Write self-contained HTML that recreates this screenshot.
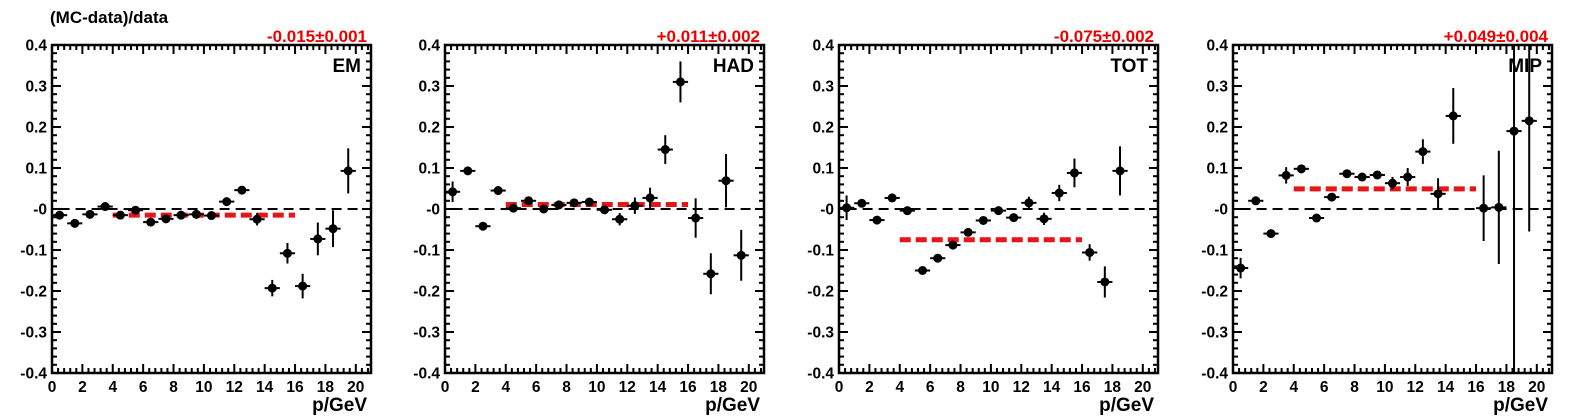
<!DOCTYPE html>
<html><head><meta charset="utf-8"><style>
html,body{margin:0;padding:0;background:#fff}
svg{display:block}
text{font-family:"Liberation Sans",Arial,sans-serif;font-weight:bold}
</style></head><body>
<svg id="chart" width="1575" height="419" viewBox="0 0 1575 419" xmlns="http://www.w3.org/2000/svg">
<text x="50" y="23" font-size="17">(MC-data)/data</text>
</svg>
<script>
const panelNames = ["EM","HAD","TOT","MIP"];
const fitLabels = ["-0.015\u00b10.001","+0.011\u00b10.002","-0.075\u00b10.002","+0.049\u00b10.004"];
const fitValues = [-0.015, 0.011, -0.075, 0.049];
const binCenters = [0.5,1.5,2.5,3.5,4.5,5.5,6.5,7.5,8.5,9.5,10.5,11.5,12.5,13.5,14.5,15.5,16.5,17.5,18.5,19.5];
const emValues = [-0.015,-0.035,-0.013,0.006,-0.015,-0.003,-0.032,-0.024,-0.015,-0.013,-0.016,0.018,0.046,-0.025,-0.193,-0.108,-0.188,-0.073,-0.048,0.093];
const emErrors = [0.006,0.005,0.005,0.005,0.005,0.005,0.005,0.005,0.005,0.005,0.005,0.006,0.008,0.015,0.02,0.025,0.03,0.04,0.045,0.055];
const hadValues = [0.042,0.093,-0.042,0.045,0.002,0.02,0,0.01,0.015,0.017,-0.002,-0.025,0.008,0.027,0.145,0.31,-0.022,-0.158,0.069,-0.113];
const hadErrors = [0.025,0.005,0.005,0.005,0.005,0.006,0.005,0.006,0.006,0.007,0.01,0.015,0.02,0.025,0.035,0.05,0.048,0.05,0.065,0.062];
const totValues = [0.003,0.014,-0.027,0.027,-0.004,-0.15,-0.12,-0.088,-0.057,-0.028,-0.004,-0.021,0.015,-0.024,0.039,0.088,-0.106,-0.178,0.093,null];
const totErrors = [0.03,0.006,0.005,0.006,0.005,0.005,0.005,0.005,0.005,0.005,0.005,0.006,0.015,0.015,0.02,0.035,0.02,0.038,0.06,0];
const mipValues = [-0.144,0.02,-0.06,0.082,0.098,-0.022,0.029,0.086,0.078,0.083,0.063,0.078,0.14,0.037,0.227,null,0.002,0.004,0.19,0.215];
const mipErrors = [0.025,0.006,0.006,0.02,0.006,0.006,0.006,0.01,0.008,0.01,0.015,0.022,0.03,0.038,0.068,0,0.08,0.138,0.6,0.27];
const xTicks = [0,2,4,6,8,10,12,14,16,18,20];
const yTicks = [0.4,0.3,0.2,0.1,0,-0.1,-0.2,-0.3,-0.4];
const yTickLabels = ["0.4","0.3","0.2","0.1","-0","-0.1","-0.2","-0.3","-0.4"];
const allValues = [emValues,hadValues,totValues,mipValues];
const allErrors = [emErrors,hadErrors,totErrors,mipErrors];

const NS="http://www.w3.org/2000/svg";
const svg=document.getElementById('chart');
const lefts=[52,445,839,1233], W=319, TOP=45, BOT=373, XMAX=21, YMIN=-0.4, YMAX=0.4;
function mk(tag,attrs,parent){const e=document.createElementNS(NS,tag);for(const k in attrs)e.setAttribute(k,attrs[k]);(parent||svg).appendChild(e);return e;}

panelNames.forEach((name,p)=>{
  const L=lefts[p];
  const xs=v=>L+v/XMAX*W;
  const ys=v=>BOT-(v-YMIN)/(YMAX-YMIN)*(BOT-TOP);
  const g=mk('g',{});
  
  
  for(let i=0;i<=52;i++){const v=i*0.4;if(v>XMAX)break;const major=Math.abs(v/2-Math.round(v/2))<1e-6;const len=major?9:5;
    mk('line',{x1:xs(v),x2:xs(v),y1:BOT,y2:BOT-len,stroke:'#000','stroke-width':2},g);
    mk('line',{x1:xs(v),x2:xs(v),y1:TOP,y2:TOP+len,stroke:'#000','stroke-width':2},g);}
  for(let i=0;i<=40;i++){const v=-0.4+i*0.02;const major=i%5===0;const len=major?9:5;
    mk('line',{x1:L,x2:L+len,y1:ys(v),y2:ys(v),stroke:'#000','stroke-width':2},g);
    mk('line',{x1:L+W,x2:L+W-len,y1:ys(v),y2:ys(v),stroke:'#000','stroke-width':2},g);}
  mk('rect',{x:L,y:TOP,width:W,height:BOT-TOP,fill:'none',stroke:'#000','stroke-width':2.5},g);
  xTicks.forEach(t=>{const e=mk('text',{x:xs(t),y:BOT+19,'font-size':15.5,'text-anchor':'middle'},g);e.textContent=t;
    });
  yTicks.forEach((t,i)=>{const e=mk('text',{x:L-5,y:ys(t)+5.5,'font-size':15.5,'text-anchor':'end'},g);e.textContent=yTickLabels[i];
    });
  const xt=mk('text',{x:L+W-4,y:BOT+38,'font-size':19,'text-anchor':'end'},g);xt.textContent='p/GeV';
  
  const ft=mk('text',{x:L+W-4,y:TOP-3,'font-size':17,'text-anchor':'end',fill:'#e00'},g);ft.textContent=fitLabels[p];
  
  const pn=mk('text',{x:L+W-10,y:TOP+27,'font-size':19,'text-anchor':'end'},g);pn.textContent=name;
  
  const z=mk('line',{x1:xs(0.5),x2:xs(XMAX)-2,y1:ys(0),y2:ys(0),stroke:'#000','stroke-width':2,'stroke-dasharray':'10,6'},g);
  
  const f=mk('line',{x1:xs(4),x2:xs(16),y1:ys(fitValues[p]),y2:ys(fitValues[p]),stroke:'#e8141a','stroke-width':5,'stroke-dasharray':'11,5'},g);
  
  const vals=allValues[p], errs=allErrors[p];
  binCenters.forEach((c,i)=>{const v=vals[i];if(v===null)return;
    const pg=mk('g',{},g);
    
    
    const y1=Math.max(TOP,ys(v+errs[i])),y2=Math.min(BOT,ys(v-errs[i]));
    mk('line',{x1:xs(c-0.5),x2:xs(c+0.5),y1:ys(v),y2:ys(v),stroke:'#000','stroke-width':2},pg);
    mk('line',{x1:xs(c),x2:xs(c),y1:y1,y2:y2,stroke:'#000','stroke-width':2},pg);
    mk('circle',{cx:xs(c),cy:ys(v),r:4.5,fill:'#000'},pg);
  });
});
</script>
</body></html>
